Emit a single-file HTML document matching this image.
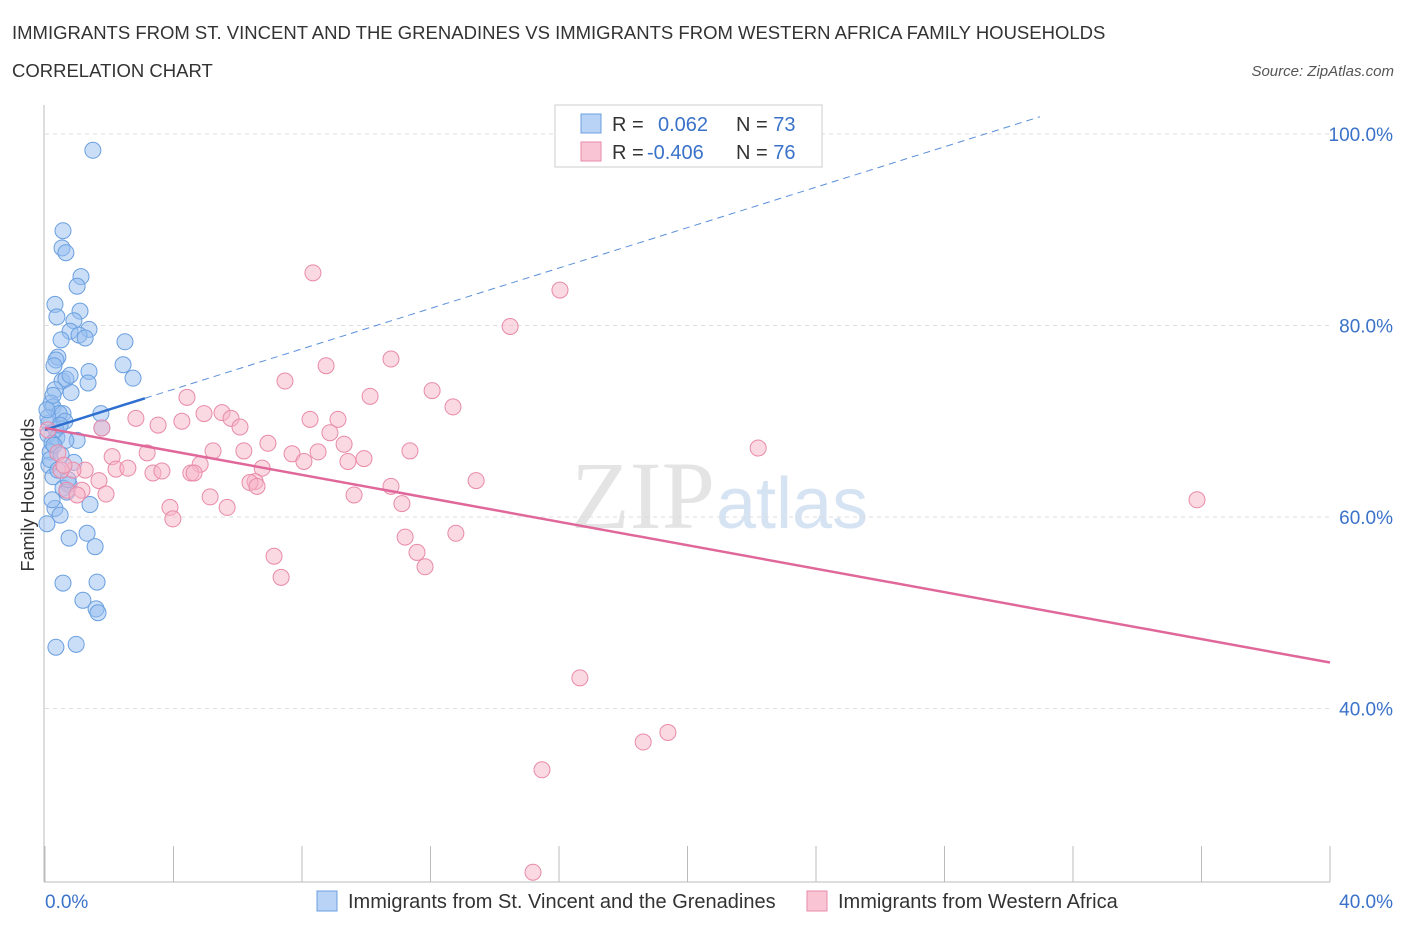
<!DOCTYPE html>
<html><head><meta charset="utf-8">
<style>
body{margin:0;background:#fff;font-family:"Liberation Sans",sans-serif;}
#wrap{position:relative;width:1406px;height:930px;overflow:hidden;}
</style></head>
<body>
<div id="wrap">
<svg id="svg" width="1406" height="930">
<text x="12" y="39" font-size="18.5" fill="#333">IMMIGRANTS FROM ST. VINCENT AND THE GRENADINES VS IMMIGRANTS FROM WESTERN AFRICA FAMILY HOUSEHOLDS</text>
<text x="12" y="77" font-size="18.5" fill="#333">CORRELATION CHART</text>
<text x="1394" y="76" font-size="15" fill="#555" font-style="italic" text-anchor="end">Source: ZipAtlas.com</text>
<text x="34" y="495" font-size="18" fill="#333" text-anchor="middle" transform="rotate(-90 34 495)">Family Households</text>
<text x="715" y="528" font-size="96" fill="#e4e4e4" text-anchor="end" font-family="Liberation Serif">ZIP</text>
<text x="716" y="528" font-size="72" fill="#d6e3f3">atlas</text>
<g id="grid"></g><g id="pts"></g><g id="lines"></g>
<g>
<rect x="555" y="105" width="267" height="62" fill="#fff" stroke="#ccc"/>
<rect x="581" y="114" width="20" height="19" fill="#b8d3f5" stroke="#6a9fe0"/>
<rect x="581" y="142" width="20" height="19" fill="#f9c5d5" stroke="#e88aa8"/>
<text x="612" y="131" font-size="20" fill="#333">R = <tspan fill="#3a72c9" x="658">0.062</tspan><tspan fill="#333" x="736">N = </tspan><tspan fill="#3a72c9">73</tspan></text>
<text x="612" y="159" font-size="20" fill="#333">R = <tspan fill="#3a72c9" x="647">-0.406</tspan><tspan fill="#333" x="736">N = </tspan><tspan fill="#3a72c9">76</tspan></text>
</g>
<g>
<rect x="317" y="891" width="20" height="20" fill="#b8d3f5" stroke="#6a9fe0"/>
<text x="348" y="908" font-size="20" fill="#333">Immigrants from St. Vincent and the Grenadines</text>
<rect x="807" y="891" width="20" height="20" fill="#f9c5d5" stroke="#e88aa8"/>
<text x="838" y="908" font-size="20" fill="#333">Immigrants from Western Africa</text>
</g>
</svg>
</div>
<script>
const blueX=[1.49,0.56,0.53,0.65,1.12,1.00,0.31,1.09,0.37,0.90,1.37,0.78,0.50,1.06,1.25,2.49,0.40,0.34,0.28,2.43,1.37,2.74,0.53,0.65,1.34,0.31,0.81,0.19,0.25,0.56,0.44,1.74,0.62,0.12,0.34,1.77,0.09,0.37,1.00,0.22,0.16,0.90,0.12,0.25,0.75,0.56,0.68,1.40,0.31,0.47,0.06,0.75,1.31,1.56,0.56,1.62,1.18,1.59,1.65,0.34,0.97,0.09,0.16,0.40,0.22,0.65,0.47,0.25,0.78,0.28,0.06,0.50,0.72];
const blueY=[98.3,89.9,88.1,87.6,85.1,84.1,82.2,81.5,80.9,80.5,79.6,79.4,78.5,79.0,78.7,78.3,76.7,76.4,75.8,75.9,75.2,74.5,74.2,74.4,74.0,73.3,73.0,71.9,71.5,70.8,70.8,70.8,70.0,69.8,69.1,69.3,68.6,68.3,68.0,67.7,66.8,65.7,65.4,64.2,63.4,63.0,62.6,61.3,60.9,60.2,59.3,57.8,58.3,56.9,53.1,53.2,51.3,50.4,50.0,46.4,46.7,70.4,66.0,64.9,61.8,68.0,69.6,72.7,74.8,67.5,71.2,66.5,63.9];
const pinkX=[8.34,16.03,14.48,10.77,8.75,7.47,12.05,10.12,12.70,4.42,2.83,4.95,5.51,5.79,4.26,3.52,6.07,8.25,9.12,8.87,6.94,9.31,1.77,5.23,6.19,11.36,22.20,3.18,7.69,8.50,0.09,0.40,2.09,4.83,6.76,8.06,9.43,9.93,1.25,2.21,2.58,3.36,3.64,4.54,4.64,0.87,0.50,6.54,6.38,6.60,1.68,10.77,13.42,1.15,0.68,1.00,1.90,5.14,9.62,11.11,35.86,3.89,5.67,3.98,11.21,12.79,11.58,7.13,11.83,7.35,16.65,18.62,19.39,15.47,15.19,0.59];
const pinkY=[85.5,83.7,79.9,76.5,75.8,74.2,73.2,72.6,71.5,72.5,70.3,70.8,70.9,70.3,70.0,69.6,69.4,70.2,70.2,68.8,67.7,67.6,69.3,66.9,66.9,66.9,67.2,66.7,66.6,66.8,69.1,66.7,66.3,65.5,65.1,65.8,65.8,66.1,64.9,65.0,65.1,64.6,64.8,64.6,64.6,64.9,64.9,63.7,63.6,63.2,63.8,63.2,63.8,62.8,62.8,62.3,62.4,62.1,62.3,61.4,61.8,61.0,61.0,59.8,57.9,58.3,56.3,55.9,54.8,53.7,43.2,36.5,37.5,33.6,22.9,65.4];
const yTicks=[100,80,60,40];
const yTickLabels=["100.0%","80.0%","60.0%","40.0%"];
const xTickLabels=["0.0%","40.0%"];
const blueTrend=[[0,69.1],[3.11,72.4]];
const blueDash=[[3.11,72.4],[30.97,101.8]];
const pinkTrend=[[0,69.3],[40,44.8]];
const X=v=>45+v/40*1285, Y=v=>134+(100-v)/20*191.5;
const NS="http://www.w3.org/2000/svg";
function mk(p,t,a){const e=document.createElementNS(NS,t);for(const k in a)e.setAttribute(k,a[k]);p.appendChild(e);return e;}
const grid=document.getElementById('grid'),pts=document.getElementById('pts'),lines=document.getElementById('lines');
yTicks.forEach((t,i)=>{const l=mk(grid,'line',{x1:45,x2:1330,y1:Y(t),y2:Y(t),stroke:'#ddd','stroke-dasharray':'4,4'});


const tx=mk(grid,'text',{x:1393,y:Y(t)+7,'font-size':19,fill:'#3a72c9','text-anchor':'end'});tx.textContent=yTickLabels[i];

});
mk(grid,'line',{x1:44,x2:44,y1:105,y2:882,stroke:'#bbb'});
mk(grid,'line',{x1:44,x2:1330,y1:882,y2:882,stroke:'#bbb'});
for(let i=0;i<=10;i++){const x=X(i*4);const t=mk(grid,'line',{x1:x,x2:x,y1:846,y2:882,stroke:'#bbb'});

}
[[0,45,'start'],[1,1393,'end']].forEach(([i,x,a])=>{const tx=mk(grid,'text',{x:x,y:908,'font-size':19,fill:'#3a72c9','text-anchor':a});tx.textContent=xTickLabels[i];

});
blueX.forEach((v,i)=>{const c=mk(pts,'circle',{cx:X(v),cy:Y(blueY[i]),r:8,fill:'rgba(150,190,240,0.5)',stroke:'#6a9fe0','stroke-width':1});

});
pinkX.forEach((v,i)=>{const c=mk(pts,'circle',{cx:X(v),cy:Y(pinkY[i]),r:8,fill:'rgba(248,180,200,0.5)',stroke:'#e88aa8','stroke-width':1});

});
let l=mk(lines,'line',{x1:X(blueDash[0][0]),y1:Y(blueDash[0][1]),x2:X(blueDash[1][0]),y2:Y(blueDash[1][1]),stroke:'#5a8fd8','stroke-dasharray':'7,5','stroke-width':1});


l=mk(lines,'line',{x1:X(blueTrend[0][0]),y1:Y(blueTrend[0][1]),x2:X(blueTrend[1][0]),y2:Y(blueTrend[1][1]),stroke:'#2f6fd0','stroke-width':2.5});


l=mk(lines,'line',{x1:X(pinkTrend[0][0]),y1:Y(pinkTrend[0][1]),x2:X(pinkTrend[1][0]),y2:Y(pinkTrend[1][1]),stroke:'#e0679a','stroke-width':2.5});


</script>
</body></html>
